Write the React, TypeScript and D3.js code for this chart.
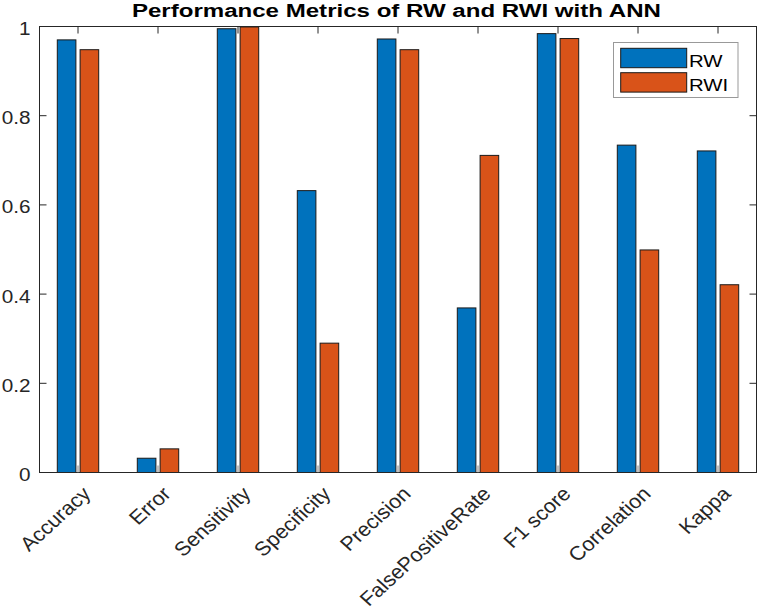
import React from 'react';
import * as d3 from 'd3';

const categories = ['Accuracy', 'Error', 'Sensitivity', 'Specificity', 'Precision', 'FalsePositiveRate', 'F1 score', 'Correlation', 'Kappa'];
const seriesNames = ['RW', 'RWI'];
const rwValues = [0.970, 0.032, 0.995, 0.632, 0.972, 0.369, 0.984, 0.734, 0.721];
const rwiValues = [0.948, 0.053, 0.999, 0.290, 0.948, 0.711, 0.973, 0.499, 0.421];
const yTickValues = [0, 0.2, 0.4, 0.6, 0.8, 1];
const seriesColors = ['#0072BD', '#D95319'];
const titleText = 'Performance Metrics of RW and RWI with ANN';

const W = 757;
const H = 610;
const plot = { left: 39.5, right: 756.5, top: 26.5, bottom: 472.5 };
const FONT = '"Liberation Sans", Arial, Helvetica, sans-serif';
const AX = '#262626';

export default function App() {
  const x = d3.scaleLinear().domain([1, categories.length]).range([78, 718]);
  const y = d3.scaleLinear().domain([0, 1]).range([plot.bottom, plot.top]);
  const series = [rwValues, rwiValues];
  const barW = 18.6;
  const offsets = [-11.4, 11.4];
  const fmt = (v: number) => String(+v.toFixed(1));

  return (
    <svg width={W} height={H} style={{ position: 'absolute', left: 0, top: 0, display: 'block', background: '#fff' }} fontFamily={FONT}>
      <rect x={0} y={0} width={W} height={H} fill="#fff" />
      {/* bars */}
      {series.map((vals, si) =>
        vals.map((v, i) => (
          <rect
            key={`b${si}-${i}`}
            x={x(i + 1) + offsets[si] - barW / 2}
            y={y(v)}
            width={barW}
            height={y(0) - y(v)}
            fill={seriesColors[si]}
            stroke="#1a1a1a"
            strokeWidth={1}
          />
        ))
      )}
      {/* axes box */}
      <rect x={plot.left} y={plot.top} width={plot.right - plot.left} height={plot.bottom - plot.top} fill="none" stroke={AX} strokeWidth={1} />
      {/* y ticks */}
      {yTickValues.map((t) => (
        <g key={`yt${t}`}>
          <line x1={plot.left} x2={plot.left + 7} y1={y(t)} y2={y(t)} stroke={AX} />
          <line x1={plot.right} x2={plot.right - 7} y1={y(t)} y2={y(t)} stroke={AX} />
          <text
            transform={`translate(30.5,${y(t) + 8.5}) scale(1.12,1)`}
            textAnchor="end"
            fontSize={18.5}
            fill={AX}
          >
            {fmt(t)}
          </text>
        </g>
      ))}
      {/* x ticks and labels */}
      {categories.map((c, i) => (
        <g key={`xt${i}`}>
          <line x1={x(i + 1)} x2={x(i + 1)} y1={plot.top} y2={plot.top + 7} stroke={AX} />
          <line x1={x(i + 1)} x2={x(i + 1)} y1={plot.bottom} y2={plot.bottom - 7} stroke="#808080" />
          <text
            transform={`translate(${x(i + 1) + 14},495) scale(1.1,1) rotate(-45)`}
            textAnchor="end"
            fontSize={19.7}
            fill={AX}
          >
            {c}
          </text>
        </g>
      ))}
      {/* title */}
      <text
        x={396.4}
        y={16.5}
        textAnchor="middle"
        fontSize={18}
        fontWeight="bold"
        fill="#000"
        textLength={529}
        lengthAdjust="spacingAndGlyphs"
      >
        {titleText}
      </text>
      {/* legend */}
      <rect x={613.5} y={42.5} width={124.5} height={55} fill="#fff" stroke="#999" strokeWidth={1} />
      {seriesNames.map((n, si) => (
        <g key={`lg${si}`}>
          <rect x={620.7} y={48.3 + si * 24.4} width={66} height={19.4} fill={seriesColors[si]} stroke="#1a1a1a" strokeWidth={1} />
          <text transform={`translate(689,${66.7 + si * 24.4}) scale(1.25,1)`} fontSize={16.3} fill="#000">
            {n}
          </text>
        </g>
      ))}
    </svg>
  );
}
